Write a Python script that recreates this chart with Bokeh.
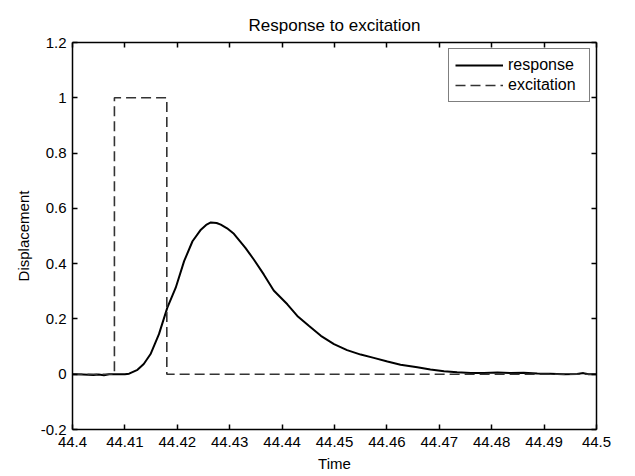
from bokeh.plotting import figure
from bokeh.models import LinearAxis, FixedTicker, Range1d, Legend, LegendItem
from bokeh.embed import file_html
from bokeh.resources import INLINE

# ---- data ----
time_resp = [44.400, 44.402, 44.404, 44.405, 44.406, 44.407, 44.408, 44.410,
             44.4108, 44.4124, 44.4136, 44.4149, 44.4165, 44.4181, 44.4197,
             44.4213, 44.4229, 44.4245, 44.4255, 44.4264, 44.4275, 44.4283,
             44.4295, 44.4308, 44.4330, 44.4346, 44.4365, 44.4384, 44.4410,
             44.4429, 44.4451, 44.4474, 44.4499, 44.4524, 44.4550, 44.4575,
             44.4601, 44.4626, 44.4658, 44.4683, 44.4709, 44.4734, 44.4760,
             44.4785, 44.4811, 44.4836, 44.4861, 44.4887, 44.4912, 44.4938,
             44.4963, 44.4975, 44.4985, 44.5000]
response = [0.0, -0.001, -0.003, -0.001, -0.004, 0.0, 0.0, 0.0,
            0.002, 0.016, 0.037, 0.073, 0.145, 0.241, 0.313,
            0.409, 0.481, 0.523, 0.540, 0.549, 0.547, 0.541,
            0.528, 0.508, 0.457, 0.415, 0.361, 0.303, 0.253,
            0.211, 0.175, 0.139, 0.109, 0.087, 0.071, 0.059,
            0.046, 0.034, 0.025, 0.017, 0.011, 0.007, 0.004,
            0.004, 0.006, 0.004, 0.005, 0.003, 0.002, 0.000,
            0.001, 0.004, 0.0, 0.0]

time_exc = [44.400, 44.408, 44.408, 44.418, 44.418, 44.500]
excitation = [0, 0, 1, 1, 0, 0]

x_ticks = [44.4, 44.41, 44.42, 44.43, 44.44, 44.45, 44.46, 44.47, 44.48, 44.49, 44.5]
x_tick_labels = ["44.4", "44.41", "44.42", "44.43", "44.44", "44.45",
                 "44.46", "44.47", "44.48", "44.49", "44.5"]
y_ticks = [-0.2, 0, 0.2, 0.4, 0.6, 0.8, 1, 1.2]
y_tick_labels = ["-0.2", "0", "0.2", "0.4", "0.6", "0.8", "1", "1.2"]

FONT = "Liberation Sans"

p = figure(width=630, height=474, output_backend="svg", toolbar_location=None,
           x_range=Range1d(44.4, 44.5), y_range=Range1d(-0.2, 1.2),
           min_border_left=72, min_border_right=34, min_border_top=42,
           min_border_bottom=44, title="Response to excitation")
p.title.align = "center"
p.title.text_font = FONT
p.title.text_font_size = "17px"
p.title.text_font_style = "normal"
p.title.text_color = "black"
p.title.standoff = 16
p.xgrid.visible = False
p.ygrid.visible = False
p.outline_line_color = None

p.add_layout(LinearAxis(), "above")
p.add_layout(LinearAxis(), "right")

for ax in p.xaxis:
    ax.ticker = FixedTicker(ticks=x_ticks)
    ax.major_label_overrides = dict(zip(x_ticks, x_tick_labels))
for ax in p.yaxis:
    ax.ticker = FixedTicker(ticks=y_ticks)
    ax.major_label_overrides = dict(zip(y_ticks, y_tick_labels))

for ax in list(p.xaxis) + list(p.yaxis):
    ax.major_tick_in = 5
    ax.major_tick_out = 0
    ax.minor_tick_line_color = None
    ax.axis_line_width = 1.5
    ax.axis_line_color = "black"
    ax.major_tick_line_width = 1.5
    ax.major_tick_line_color = "black"
    ax.major_label_text_font = FONT
    ax.major_label_text_font_size = "15px"
    ax.major_label_text_color = "black"
    ax.axis_label_text_font = FONT
    ax.axis_label_text_font_size = "15px"
    ax.axis_label_text_font_style = "normal"
    ax.axis_label_text_color = "black"

for ax in (p.above[0], p.right[0]):
    ax.major_label_text_color = None
    ax.major_label_standoff = 0

p.below[0].axis_label = "Time"
p.below[0].major_label_standoff = 7
p.below[0].axis_label_standoff = 5
p.left[0].axis_label = "Displacement"
p.left[0].major_label_standoff = 6
p.left[0].axis_label_standoff = 6

r_resp = p.line(time_resp, response, line_color="black", line_width=2)
r_exc = p.line(time_exc, excitation, line_color="#333333", line_width=1.6,
               line_dash="10 5")

legend = Legend(items=[LegendItem(label="response", renderers=[r_resp]),
                       LegendItem(label="excitation", renderers=[r_exc])],
                location="top_right")
legend.margin = 6
legend.padding = 6
legend.spacing = 0
legend.glyph_width = 48
legend.glyph_height = 20
legend.label_height = 20
legend.label_standoff = 5
legend.label_width = 75
legend.label_text_font = FONT
legend.label_text_font_size = "16px"
legend.label_text_color = "black"
legend.border_line_color = "black"
legend.border_line_width = 1.5
p.add_layout(legend)

open("out.html", "w").write(file_html(p, INLINE))
